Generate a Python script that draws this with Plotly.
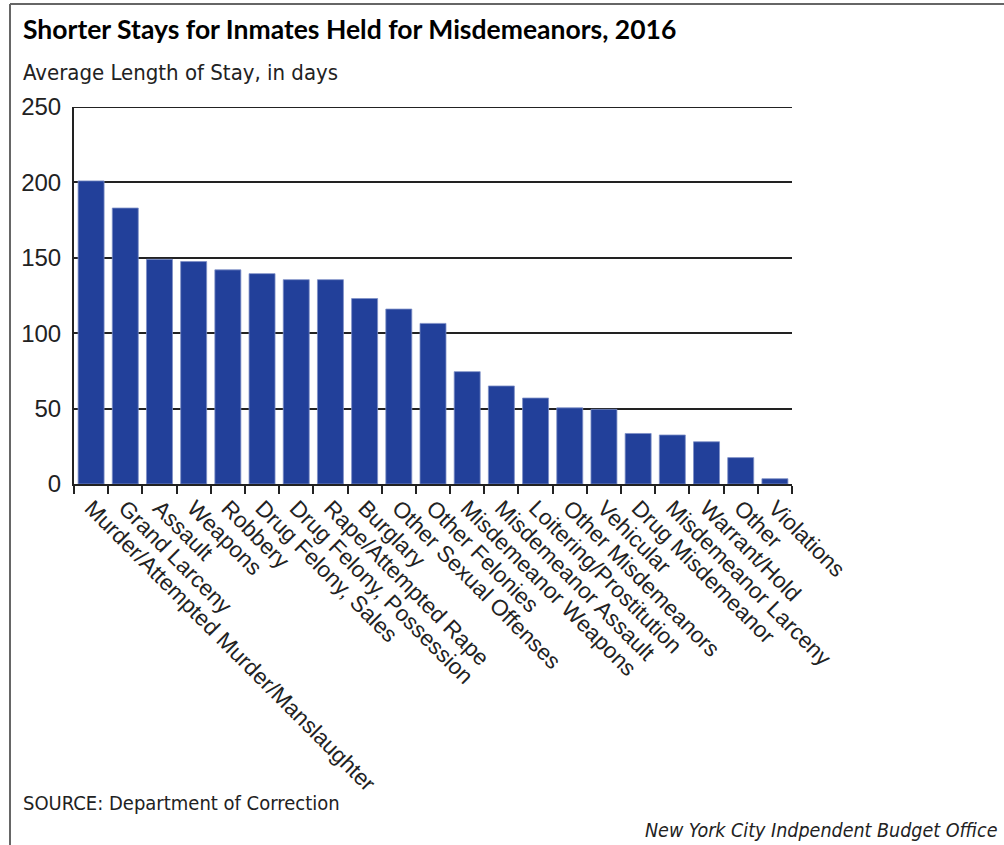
import plotly.graph_objects as go

categories = [
    "Murder/Attempted Murder/Manslaughter", "Grand Larceny", "Assault", "Weapons",
    "Robbery", "Drug Felony, Sales", "Drug Felony, Possession", "Rape/Attempted Rape",
    "Burglary", "Other Sexual Offenses", "Other Felonies", "Misdemeanor Weapons",
    "Misdemeanor Assault", "Loitering/Prostitution", "Other Misdemeanors", "Vehicular",
    "Drug Misdemeanor", "Misdemeanor Larceny", "Warrant/Hold", "Other", "Violations",
]
avg_stay_days = [201, 183, 149, 147.5, 142, 139.5, 135.5, 135.5, 123, 116, 106.5,
                 74.5, 65, 57, 50.5, 49.5, 33.5, 32.5, 28, 17.5, 3.5]
y_ticks = [0, 50, 100, 150, 200, 250]

W, H = 1004, 845
L, R, T, B = 74, 792, 107, 484


def px(x):
    return (x - L) / (R - L)


def py(y):
    return (B - y) / (B - T)


fig = go.Figure(go.Bar(
    x=categories, y=avg_stay_days,
    marker=dict(color="#22409a", line=dict(color="#7d8fc6", width=0.8)),
    hoverinfo="x+y",
))

SANS = "Liberation Sans, Arial, sans-serif"
TEXT = "DejaVu Sans Condensed, DejaVu Sans, sans-serif"

fig.update_layout(
    width=W, height=H,
    margin=dict(l=L, r=W - R, t=T, b=H - B, pad=0),
    paper_bgcolor="white", plot_bgcolor="white",
    bargap=0.24, showlegend=False,
    xaxis=dict(
        type="category", range=[-0.5, len(categories) - 0.5],
        tickangle=45, tickfont=dict(family=SANS, size=22.5, color="#222"),
        ticks="outside", tickson="boundaries", ticklen=8, tickwidth=2, tickcolor="#222",
        showline=True, linecolor="#222", linewidth=2,
        showgrid=False, fixedrange=True,
    ),
    yaxis=dict(
        range=[0, 250], tickvals=y_ticks,
        tickfont=dict(family=SANS, size=24, color="#222"),
        showgrid=True, gridcolor="#222", gridwidth=2,
        showline=True, linecolor="#222", linewidth=2,
        zeroline=False, ticks="", ticklabelstandoff=6, fixedrange=True,
    ),
    shapes=[
        dict(type="line", xref="paper", yref="y", x0=0, x1=1, y0=250, y1=250,
             line=dict(color="#222", width=2)),
        dict(type="line", xref="paper", yref="paper",
             x0=px(10), x1=px(10), y0=py(4), y1=py(850),
             line=dict(color="#666", width=2)),
        dict(type="line", xref="paper", yref="paper",
             x0=px(10), x1=px(1010), y0=py(4), y1=py(4),
             line=dict(color="#666", width=2)),
    ],
    annotations=[
        dict(text="<b>Shorter Stays for Inmates Held for Misdemeanors, 2016</b>",
             xref="paper", yref="paper", x=px(21), y=py(29),
             xanchor="left", yanchor="middle", showarrow=False,
             font=dict(family="Lato, sans-serif", size=26.5, color="#000")),
        dict(text="Average Length of Stay, in days",
             xref="paper", yref="paper", x=px(21), y=py(73),
             xanchor="left", yanchor="middle", showarrow=False,
             font=dict(family=TEXT, size=22, color="#222")),
        dict(text="SOURCE: Department of Correction",
             xref="paper", yref="paper", x=px(21), y=py(803),
             xanchor="left", yanchor="middle", showarrow=False,
             font=dict(family=TEXT, size=20, color="#222")),
        dict(text="<i>New York City Indpendent Budget Office</i>",
             xref="paper", yref="paper", x=px(1000), y=py(830),
             xanchor="right", yanchor="middle", showarrow=False,
             font=dict(family=TEXT, size=19.5, color="#222")),
    ],
)

fig.write_html("out.html", config={"displayModeBar": False},
               post_script="document.body.style.margin='0';")
